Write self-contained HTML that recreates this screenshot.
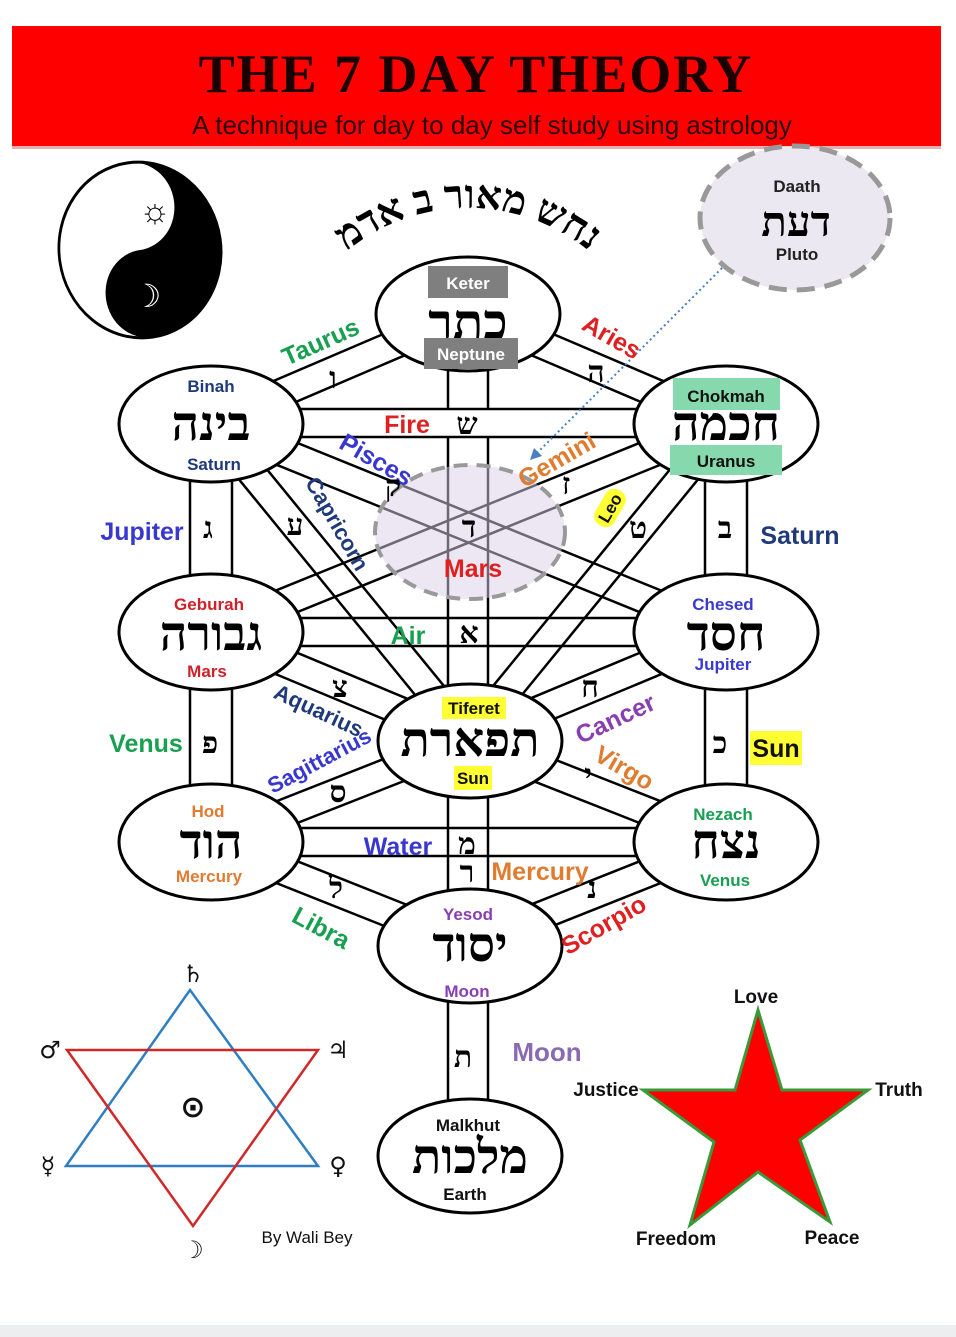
<!DOCTYPE html>
<html><head><meta charset="utf-8"><style>
html,body{margin:0;padding:0;background:#fff;}
svg{display:block;}
text{font-family:"Liberation Sans","DejaVu Sans",sans-serif;font-weight:bold;}
.h,.ha{font-family:"Liberation Serif","DejaVu Serif",serif;font-weight:bold;fill:#000;}
</style></head><body>
<svg width="956" height="1337" viewBox="0 0 956 1337" xmlns="http://www.w3.org/2000/svg">
<rect x="0" y="0" width="956" height="1337" fill="#fff"/>
<rect x="0" y="1325" width="956" height="12" fill="#eceeef"/>
<!-- banner -->
<rect x="12" y="26" width="929" height="122" fill="#ff0000"/>
<rect x="12" y="146" width="929" height="3" fill="#e6b0b0"/>
<text x="476" y="92" text-anchor="middle" font-size="54" fill="#1a0000" style="font-family:'Liberation Serif',serif;letter-spacing:2px">THE 7 DAY THEORY</text>
<text x="492" y="134" text-anchor="middle" font-size="26" fill="#2a0000" style="font-weight:normal">A technique for day to day self study using astrology</text>

<!-- yin yang -->
<g transform="translate(140,250) rotate(-8) scale(0.92,1)">
<circle r="88" fill="#fff" stroke="#000" stroke-width="3"/>
<path d="M0,-88 A88,88 0 0 1 0,88 A44,44 0 0 1 0,0 A44,44 0 0 0 0,-88 Z" fill="#000"/>
</g>
<text x="155" y="222" text-anchor="middle" font-size="34" fill="#000" style="font-weight:normal">☼</text>
<text x="147" y="307" text-anchor="middle" font-size="32" fill="#fff" style="font-weight:normal">☽</text>

<!-- arc hebrew -->
<path id="arc" d="M276,400 A192,192 0 0 1 660,400" fill="none"/>
<text font-size="40" class="ha"><textPath href="#arc" startOffset="50%" text-anchor="middle">נחש מאור ב אדמ</textPath></text>

<!-- channels as outline pairs -->
<g stroke="#000" stroke-width="2.5" fill="none">
<line x1="462.5" y1="300.1" x2="205.5" y2="410.1"/><line x1="473.5" y1="325.9" x2="216.5" y2="435.9"/>
<line x1="462.5" y1="325.9" x2="720.5" y2="435.9"/><line x1="473.5" y1="300.1" x2="731.5" y2="410.1"/>
<line x1="448" y1="313" x2="448" y2="409"/><line x1="488" y1="313" x2="488" y2="409"/>
<line x1="448" y1="437" x2="448" y2="1155"/><line x1="488" y1="437" x2="488" y2="1155"/>
<line x1="211" y1="409" x2="726" y2="409"/><line x1="211" y1="437" x2="726" y2="437"/>
<line x1="190" y1="423" x2="190" y2="842"/><line x1="232" y1="423" x2="232" y2="842"/>
<line x1="705" y1="423" x2="705" y2="842"/><line x1="747" y1="423" x2="747" y2="842"/>
<line x1="205.7" y1="436" x2="720.7" y2="645"/><line x1="216.3" y1="410" x2="731.3" y2="619"/>
<line x1="731.3" y1="436" x2="216.3" y2="645"/><line x1="720.7" y1="410" x2="205.7" y2="619"/>
<line x1="200.2" y1="431.9" x2="459.2" y2="748.9"/><line x1="221.8" y1="414.1" x2="480.8" y2="731.1"/>
<line x1="736.8" y1="431.9" x2="477.8" y2="748.9"/><line x1="715.2" y1="414.1" x2="456.2" y2="731.1"/>
<line x1="211" y1="618" x2="726" y2="618"/><line x1="211" y1="646" x2="726" y2="646"/>
<line x1="205.6" y1="644.9" x2="464.6" y2="752.9"/><line x1="216.4" y1="619.1" x2="475.4" y2="727.1"/>
<line x1="731.4" y1="644.9" x2="472.4" y2="752.9"/><line x1="720.6" y1="619.1" x2="461.6" y2="727.1"/>
<line x1="464.9" y1="727" x2="205.9" y2="829"/><line x1="475.1" y1="753" x2="216.1" y2="855"/>
<line x1="472.1" y1="727" x2="731.1" y2="829"/><line x1="461.9" y1="753" x2="720.9" y2="855"/>
<line x1="211" y1="828" x2="726" y2="828"/><line x1="211" y1="856" x2="726" y2="856"/>
<line x1="205.8" y1="855" x2="464.8" y2="958"/><line x1="216.2" y1="829" x2="475.2" y2="932"/>
<line x1="731.2" y1="855" x2="472.2" y2="958"/><line x1="720.8" y1="829" x2="461.8" y2="932"/>
</g>

<!-- mars dashed circle -->
<ellipse cx="470" cy="532" rx="95" ry="67" fill="#d9cfe6" fill-opacity="0.5" stroke="#999" stroke-width="4" stroke-dasharray="14,9"/>

<!-- nodes -->
<g fill="#fff" stroke="#000" stroke-width="3">
<ellipse cx="468" cy="314" rx="92" ry="57"/>
<ellipse cx="211" cy="424" rx="92" ry="58"/>
<ellipse cx="726" cy="424" rx="92" ry="58"/>
<ellipse cx="211" cy="632" rx="92" ry="58"/>
<ellipse cx="726" cy="632" rx="92" ry="58"/>
<ellipse cx="470" cy="741" rx="92" ry="57"/>
<ellipse cx="211" cy="842" rx="92" ry="58"/>
<ellipse cx="726" cy="842" rx="92" ry="58"/>
<ellipse cx="470" cy="946" rx="92" ry="57"/>
<ellipse cx="470" cy="1156" rx="92" ry="57"/>
</g>

<!-- daath -->
<ellipse cx="795" cy="218" rx="95" ry="72" fill="#ebe8f1" stroke="#999" stroke-width="5" stroke-dasharray="18,10"/>
<text x="797" y="192" text-anchor="middle" font-size="17" fill="#222">Daath</text>
<text x="796" y="236" text-anchor="middle" font-size="42" class="h">דעת</text>
<text x="797" y="260" text-anchor="middle" font-size="17" fill="#222">Pluto</text>
<line x1="722" y1="268" x2="535" y2="455" stroke="#4a7fc0" stroke-width="2" stroke-dasharray="2,3"/>
<path d="M530,460 L534,448 L542,456 Z" fill="#4a7fc0"/>

<!-- node labels -->
<rect x="428" y="266" width="80" height="32" fill="#7f7f7f"/>
<text x="468" y="289" text-anchor="middle" font-size="17" fill="#fff">Keter</text>
<text x="468" y="339" text-anchor="middle" font-size="50" class="h">כתר</text>
<rect x="424" y="338" width="94" height="31" fill="#7f7f7f"/>
<text x="471" y="360" text-anchor="middle" font-size="17" fill="#fff">Neptune</text>

<text x="211" y="392" text-anchor="middle" font-size="17" fill="#1f3a7a">Binah</text>
<text x="211" y="440" text-anchor="middle" font-size="48" class="h">בינה</text>
<text x="214" y="470" text-anchor="middle" font-size="17" fill="#1f3a7a">Saturn</text>

<rect x="673" y="378" width="107" height="32" fill="#86d9ac"/>
<text x="726" y="402" text-anchor="middle" font-size="17" fill="#111">Chokmah</text>
<text x="726" y="440" text-anchor="middle" font-size="48" class="h">חכמה</text>
<rect x="670" y="445" width="112" height="30" fill="#86d9ac"/>
<text x="726" y="467" text-anchor="middle" font-size="17" fill="#111">Uranus</text>

<text x="209" y="610" text-anchor="middle" font-size="17" fill="#d0202a">Geburah</text>
<text x="211" y="650" text-anchor="middle" font-size="48" class="h">גבורה</text>
<text x="207" y="677" text-anchor="middle" font-size="17" fill="#d0202a">Mars</text>

<text x="723" y="610" text-anchor="middle" font-size="17" fill="#3a3ad0">Chesed</text>
<text x="726" y="650" text-anchor="middle" font-size="48" class="h">חסד</text>
<text x="723" y="670" text-anchor="middle" font-size="17" fill="#3a3ad0">Jupiter</text>

<rect x="442" y="697" width="64" height="22" fill="#ffff33"/>
<text x="474" y="714" text-anchor="middle" font-size="17" fill="#111">Tiferet</text>
<text x="470" y="756" text-anchor="middle" font-size="48" class="h">תפארת</text>
<rect x="454" y="766" width="38" height="24" fill="#ffff33"/>
<text x="473" y="784" text-anchor="middle" font-size="17" fill="#111">Sun</text>

<text x="208" y="817" text-anchor="middle" font-size="17" fill="#e07b30">Hod</text>
<text x="211" y="858" text-anchor="middle" font-size="48" class="h">הוד</text>
<text x="209" y="882" text-anchor="middle" font-size="17" fill="#e07b30">Mercury</text>

<text x="723" y="820" text-anchor="middle" font-size="17" fill="#18a050">Nezach</text>
<text x="726" y="858" text-anchor="middle" font-size="48" class="h">נצח</text>
<text x="725" y="886" text-anchor="middle" font-size="17" fill="#18a050">Venus</text>

<text x="468" y="920" text-anchor="middle" font-size="17" fill="#8a3fb0">Yesod</text>
<text x="470" y="961" text-anchor="middle" font-size="48" class="h">יסוד</text>
<text x="467" y="997" text-anchor="middle" font-size="17" fill="#8a3fb0">Moon</text>

<text x="468" y="1131" text-anchor="middle" font-size="17" fill="#111">Malkhut</text>
<text x="470" y="1173" text-anchor="middle" font-size="48" class="h">מלכות</text>
<text x="465" y="1200" text-anchor="middle" font-size="17" fill="#111">Earth</text>

<!-- path labels -->
<g font-size="25">
<text x="322" y="350" text-anchor="middle" fill="#18a050" transform="rotate(-24 322 345)">Taurus</text>
<text x="610" y="345" text-anchor="middle" fill="#e02020" transform="rotate(30 610 340)">Aries</text>
<text x="407" y="433" text-anchor="middle" fill="#e02020">Fire</text>
<text x="375" y="468" text-anchor="middle" fill="#3838d0" transform="rotate(30 375 462)">Pisces</text>
<text x="558" y="468" text-anchor="middle" fill="#e07b30" transform="rotate(-30 558 462)">Gemini</text>
<text x="335" y="530" text-anchor="middle" fill="#1f3a7a" font-size="22" transform="rotate(60 335 525)">Capricorn</text>
<text x="473" y="577" text-anchor="middle" fill="#e02020">Mars</text>
<text x="142" y="540" text-anchor="middle" fill="#3838d0">Jupiter</text>
<text x="800" y="544" text-anchor="middle" fill="#1f3a7a">Saturn</text>
<text x="408" y="644" text-anchor="middle" fill="#18a050">Air</text>
<text x="318" y="718" text-anchor="middle" fill="#1f3a7a" font-size="22" transform="rotate(25 318 712)">Aquarius</text>
<text x="616" y="727" text-anchor="middle" fill="#8a3fb0" transform="rotate(-25 616 720)">Cancer</text>
<text x="146" y="752" text-anchor="middle" fill="#18a050">Venus</text>
<rect x="750" y="731" width="52" height="34" fill="#ffff33"/>
<text x="776" y="757" text-anchor="middle" fill="#111">Sun</text>
<text x="320" y="768" text-anchor="middle" fill="#3838d0" font-size="22" transform="rotate(-28 320 762)">Sagittarius</text>
<text x="623" y="776" text-anchor="middle" fill="#e07b30" transform="rotate(30 623 770)">Virgo</text>
<text x="398" y="855" text-anchor="middle" fill="#3838d0">Water</text>
<text x="540" y="880" text-anchor="middle" fill="#e07b30">Mercury</text>
<text x="320" y="936" text-anchor="middle" fill="#18a050" transform="rotate(28 320 930)">Libra</text>
<text x="605" y="933" text-anchor="middle" fill="#e02020" transform="rotate(-30 605 927)">Scorpio</text>
<text x="547" y="1061" text-anchor="middle" fill="#8a6ab0" font-size="26">Moon</text>
</g>
<g transform="rotate(-60 610 508)"><rect x="590" y="497" width="40" height="22" rx="10" fill="#ffff33"/><text x="610" y="514" text-anchor="middle" font-size="17" fill="#111">Leo</text></g>

<!-- hebrew letters on paths -->
<g font-size="30" class="h" text-anchor="middle">
<text x="333" y="388" class="h">ו</text>
<text x="596" y="382" class="h">ה</text>
<text x="467" y="434" class="h">ש</text>
<text x="393" y="496" class="h">ק</text>
<text x="566" y="494" class="h">ז</text>
<text x="295" y="535" class="h">ע</text>
<text x="638" y="538" class="h">ט</text>
<text x="208" y="538" class="h">ג</text>
<text x="725" y="538" class="h">ב</text>
<text x="469" y="537" class="h">ד</text>
<text x="469" y="643" class="h">א</text>
<text x="340" y="697" class="h">צ</text>
<text x="590" y="697" class="h">ח</text>
<text x="210" y="753" class="h">פ</text>
<text x="720" y="753" class="h">כ</text>
<text x="338" y="802" class="h">ס</text>
<text x="588" y="785" class="h">י</text>
<text x="467" y="854" class="h">מ</text>
<text x="467" y="882" class="h">ר</text>
<text x="336" y="898" class="h">ל</text>
<text x="592" y="898" class="h">נ</text>
<text x="463" y="1067" class="h">ת</text>
</g>

<!-- hexagram -->
<polygon points="190,990 318,1166 66,1166" fill="none" stroke="#2e7fc1" stroke-width="2.5"/>
<polygon points="67,1050 318,1050 193,1226" fill="none" stroke="#d02828" stroke-width="2.5"/>
<g font-size="24" fill="#111" text-anchor="middle" style="font-weight:normal">
<text x="193" y="982" style="font-family:'DejaVu Sans',sans-serif">♄</text>
<text x="50" y="1058" style="font-family:'DejaVu Sans',sans-serif">♂</text>
<text x="338" y="1058" style="font-family:'DejaVu Sans',sans-serif">♃</text>
<text x="48" y="1174" style="font-family:'DejaVu Sans',sans-serif">☿</text>
<text x="338" y="1174" style="font-family:'DejaVu Sans',sans-serif">♀</text>
<text x="193" y="1258" style="font-family:'DejaVu Sans',sans-serif">☽</text>
<text x="193" y="1117" font-size="30" style="font-family:'DejaVu Sans',sans-serif">⊙</text>
</g>
<text x="307" y="1243" text-anchor="middle" font-size="17" fill="#111" style="font-weight:normal">By Wali Bey</text>

<!-- star -->
<polygon points="758,1010 782,1090 868,1090 800,1140 830,1222 758,1172 690,1225 714,1142 643,1090 735,1090" fill="#ff0000" stroke="#3a9a3a" stroke-width="3"/>
<g font-size="19" fill="#111" text-anchor="middle" style="font-weight:normal">
<text x="756" y="1003">Love</text>
<text x="899" y="1096">Truth</text>
<text x="606" y="1096">Justice</text>
<text x="676" y="1245">Freedom</text>
<text x="832" y="1244">Peace</text>
</g>
</svg>
</body></html>
